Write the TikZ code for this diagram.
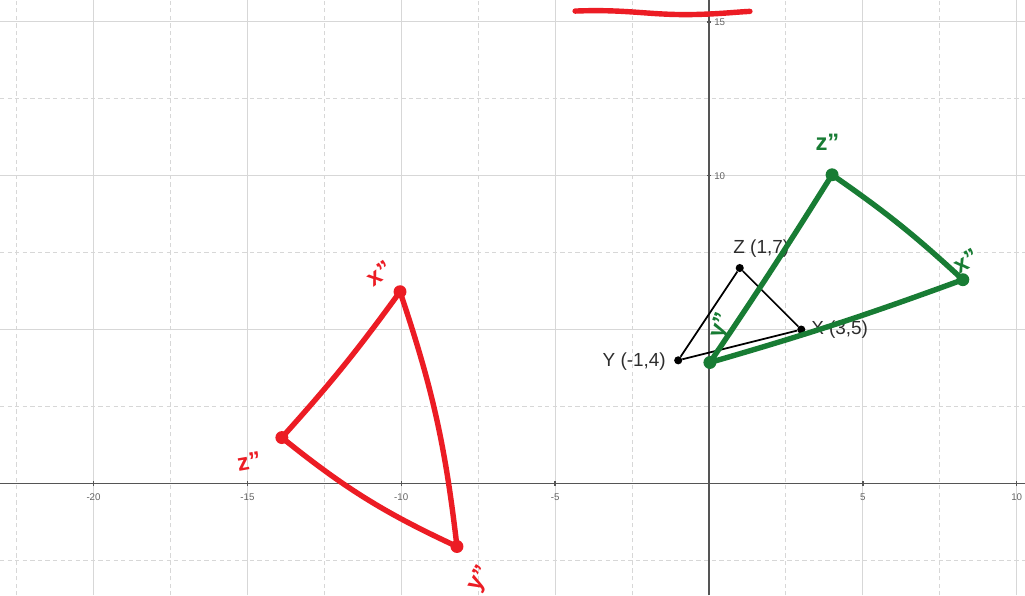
\documentclass[tikz,border=0pt]{standalone}
\usepackage{fontspec}
\setmainfont{Liberation Sans}
\setsansfont{Liberation Sans}
\usetikzlibrary{positioning}

\begin{document}
\begin{tikzpicture}[
    x=1cm, y=1cm,
    every node/.style={font=\sffamily},
    major/.style={draw=gridgray, line width=0.9pt},
    minor/.style={draw=gridgray, line width=0.9pt, dash pattern=on 4pt off 3pt},
    axis/.style={draw=axisgray, line width=1.3pt},
    tick/.style={text=tickgray, font=\sffamily\fontsize{9}{10}\selectfont},
    pt/.style={circle, fill=black, inner sep=0pt, minimum size=7.5pt},
    ptlabel/.style={text=labelgray, font=\sffamily\fontsize{17.5}{20}\selectfont},
    hand/.style={line width=5pt, line cap=round, line join=round},
    handlabel/.style={font=\sffamily\bfseries\fontsize{22}{24}\selectfont, inner sep=0pt}
]

\definecolor{gridgray}{RGB}{215, 215, 215}
\definecolor{axisgray}{RGB}{85, 85, 85}
\definecolor{tickgray}{RGB}{100, 100, 100}
\definecolor{labelgray}{RGB}{45, 45, 45}
\definecolor{penred}{RGB}{236, 28, 36}
\definecolor{pengreen}{RGB}{24, 124, 52}

\useasboundingbox[fill=white] (-23.04, -3.64) rectangle (10.27, 15.71);

% grid
\foreach \x in {-22.5, -17.5, ..., 7.5}
    \draw[minor] (\x, -3.64) -- (\x, 15.71);
\foreach \x in {-20, -15, -10, -5, 5, 10}
    \draw[major] (\x, -3.64) -- (\x, 15.71);
\foreach \y in {-2.5, 2.5, 7.5, 12.5}
    \draw[minor] (-23.04, \y) -- (10.27, \y);
\foreach \y in {5, 10, 15}
    \draw[major] (-23.04, \y) -- (10.27, \y);

% axes
\draw[axis] (-23.04, 0) -- (10.27, 0);
\draw[axis] (0, -3.64) -- (0, 15.71);
\foreach \x in {-20, -15, -10, -5, 5, 10} {
    \draw[axis] (\x, -0.07) -- (\x, 0.07);
    \node[tick] at (\x, -0.44) {\x};
}
\foreach \y in {10, 15} {
    \draw[axis] (-0.07, \y) -- (0.07, \y);
    \node[tick, anchor=west] at (0.05, \y) {\y};
}

% triangle XYZ
\node[pt] (Z) at (1, 7) {};
\node[pt] (Y) at (-1, 4) {};
\node[pt] (X) at (3, 5) {};
\draw[line width=1.6pt] (Z) -- (X) -- (Y) -- (Z);
\node[ptlabel] at (1.7, 7.62) {Z (1,7)};
\node[ptlabel, anchor=east] at (-1.28, 3.96) {Y (-1,4)};
\node[ptlabel, anchor=west] at (3.2, 5.0) {X (3,5)};

% red sketch
\coordinate (rx) at (-10.04, 6.23);
\coordinate (rz) at (-13.88, 1.49);
\coordinate (ry) at (-8.19, -2.05);
\draw[hand, penred] (rz) to[bend right=3] (rx) to[bend left=6] (ry) to[bend left=7] (rz);
\foreach \p in {rx, rz, ry}
    \fill[penred] (\p) circle (0.21);
\node[handlabel, text=penred, rotate=35] at (-10.72, 6.82) {x''};
\node[handlabel, text=penred, rotate=10] at (-14.95, 0.72) {z''};
\node[handlabel, text=penred, rotate=60] at (-7.45, -3.1) {y''};
\draw[hand, penred] (-4.35, 15.35) .. controls (-2.6, 15.42) and (-1.9, 15.2) .. (-0.4, 15.24)
    .. controls (0.4, 15.26) and (0.9, 15.32) .. (1.33, 15.34);

% green sketch
\coordinate (gz) at (4.0, 10.03);
\coordinate (gx) at (8.25, 6.62);
\coordinate (gy) at (0.03, 3.93);
\draw[hand, pengreen] (gy) to[bend right=1] (gz) to[bend left=4] (gx) to[bend left=2] (gy);
\foreach \p in {gz, gx, gy}
    \fill[pengreen] (\p) circle (0.21);
\node[handlabel, text=pengreen] at (3.85, 11.07) {z''};
\node[handlabel, text=pengreen, rotate=30] at (8.35, 7.22) {x''};
\node[handlabel, text=pengreen, rotate=70] at (0.42, 5.12) {y''};

\end{tikzpicture}
\end{document}
